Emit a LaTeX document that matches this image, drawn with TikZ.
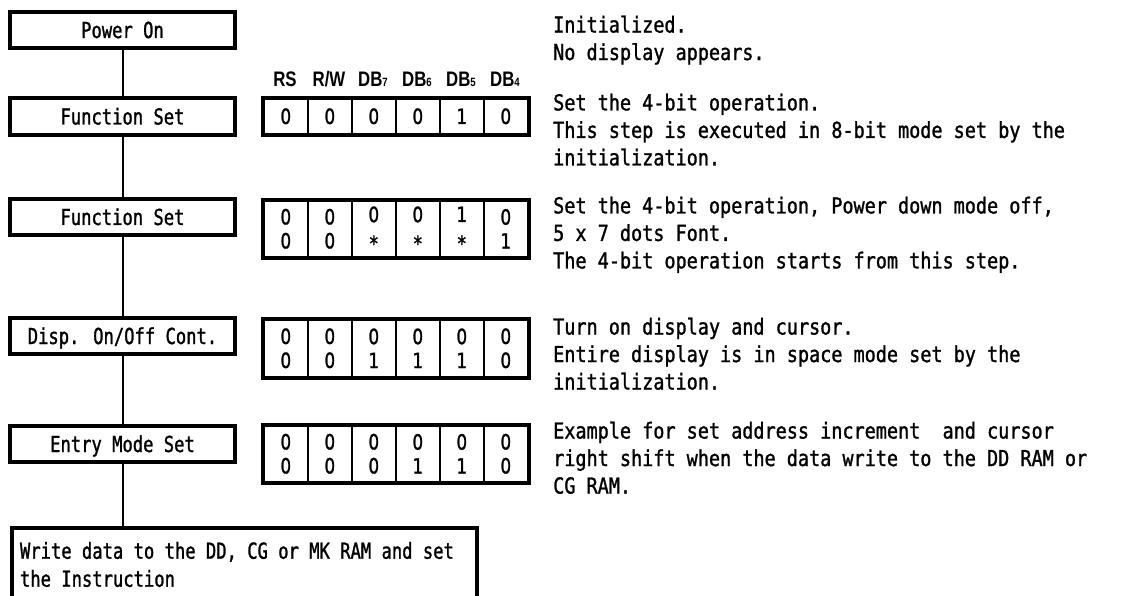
\documentclass[tikz,border=0pt]{standalone}
\usepackage{fontspec}
\newfontfamily\txtfont[FakeStretch=0.84,FakeBold=1.2]{DejaVu Sans Mono}
\newfontfamily\boxfont[FakeStretch=0.78,FakeBold=1.2]{DejaVu Sans Mono}
\newfontfamily\digfont[FakeStretch=0.8,FakeBold=1.2]{DejaVu Sans}
\newfontfamily\hdfont[FakeStretch=0.8]{Liberation Sans Bold}
\newcommand\lowstar{\raisebox{-5pt}{*}}
\newcommand\dbsub[1]{DB{\fontsize{12}{12}\selectfont #1}}
\newcommand\firstline{\rule{0pt}{16.7pt}}
\begin{document}
\begin{tikzpicture}[x=1pt,y=-1pt,
  flowbox/.style={draw, line width=4pt, minimum width=225pt, inner sep=0pt,
    text height=16pt, text depth=0pt, font=\boxfont\fontsize{22}{24}\selectfont},
  cell/.style={draw, line width=1.6pt, minimum width=44pt, inner sep=0pt,
    anchor=north west, align=center, font=\digfont\fontsize{21}{24}\selectfont},
  outerframe/.style={line width=4pt},
  link/.style={line width=2pt},
  note/.style={anchor=north west, align=left, inner sep=0pt,
    font=\txtfont\fontsize{22}{27.5}\selectfont},
  hdr/.style={anchor=base, inner sep=0pt, font=\hdfont\fontsize{21}{21}\selectfont}]
\useasboundingbox (0,0) rectangle (1122,596);
\clip (0,0) rectangle (1122,596);
\fill[white] (0,0) rectangle (1122,596);

% flow boxes
\node[flowbox, minimum height=36pt] (pwr) at (122.5,30) {Power On};
\node[flowbox, minimum height=37pt] (fs1) at (122.5,116.5) {Function Set};
\node[flowbox, minimum height=36pt] (fs2) at (122.5,217) {Function Set};
\node[flowbox, minimum height=36pt] (disp) at (122.5,336) {Disp. On/Off Cont.};
\node[flowbox, minimum height=36pt] (ems) at (122.5,444) {Entry Mode Set};
\node[draw, line width=4pt, anchor=north west, inner xsep=8pt, inner ysep=14pt,
  font=\boxfont\fontsize{22}{28}\selectfont] (wr) at (10,526)
  {\parbox[t][90pt][t]{449pt}{\raggedright\firstline Write data to the DD, CG or MK RAM and set\\the Instruction}};

% connectors
\draw[link] (pwr) -- (fs1);
\draw[link] (fs1) -- (fs2);
\draw[link] (fs2) -- (disp);
\draw[link] (disp) -- (ems);
\draw[link] (ems.south) -- (ems.south |- wr.north);

% headers
\foreach \t [count=\i from 0] in {RS, R/W, \dbsub{7}, \dbsub{6}, \dbsub{5}, \dbsub{4}}
  \node[hdr] (h\i) at (285+44*\i, 87) {\t};

% bit box 1
\foreach \v [count=\i from 0] in {0,0,0,0,1,0}
  \node[cell, minimum height=35pt] (a\i) at (263+44*\i, 98) {\v};
\draw[outerframe] (a0.north west) rectangle (a5.south east);

% bit box 2
\foreach \u/\w [count=\i from 0] in {0/0,0/0,0/\lowstar,0/\lowstar,1/\lowstar,0/1}
  \node[cell, minimum height=56pt] (b\i) at (263+44*\i, 200) {\u\\\w};
\draw[outerframe] (b0.north west) rectangle (b5.south east);

% bit box 3
\foreach \u/\w [count=\i from 0] in {0/0,0/0,0/1,0/1,0/1,0/0}
  \node[cell, minimum height=57pt] (c\i) at (263+44*\i, 319) {\u\\\w};
\draw[outerframe] (c0.north west) rectangle (c5.south east);

% bit box 4
\foreach \u/\w [count=\i from 0] in {0/0,0/0,0/0,0/1,0/1,0/0}
  \node[cell, minimum height=56pt] (d\i) at (263+44*\i, 425) {\u\\\w};
\draw[outerframe] (d0.north west) rectangle (d5.south east);

% notes
\node[note] (n1) at (553,15.5) {\firstline Initialized.\\No display appears.};
\node[note] (n2) at (553,93.5) {\firstline Set the 4-bit operation.\\This step is executed in 8-bit mode set by the\\initialization.};
\node[note] (n3) at (553,196.5) {\firstline Set the 4-bit operation, Power down mode off,\\5 x 7 dots Font.\\The 4-bit operation starts from this step.};
\node[note] (n4) at (553,317.5) {\firstline Turn on display and cursor.\\Entire display is in space mode set by the\\initialization.};
\node[note] (n5) at (553,421.5) {\firstline Example for set address increment\ \ and cursor\\right shift when the data write to the DD RAM or\\CG RAM.};
\end{tikzpicture}
\end{document}
